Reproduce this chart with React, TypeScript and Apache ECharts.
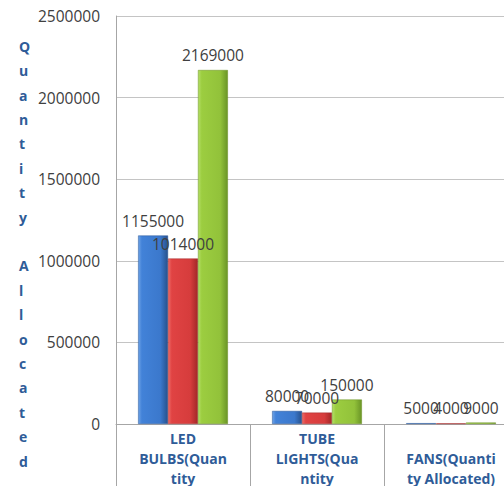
import React, { useEffect, useRef } from "react";
import * as echarts from "echarts";

const categories = [
  "LED\nBULBS(Quan\ntity\nAllocated)",
  "TUBE\nLIGHTS(Qua\nntity\nAllocated)",
  "FANS(Quanti\nty Allocated)",
];
const seriesA = [1155000, 80000, 5000];
const seriesB = [1014000, 70000, 4000];
const seriesC = [2169000, 150000, 9000];
const yTitle = "Quantity Allocated";

function grad(light: string, main: string, mid: string, dark: string) {
  return new echarts.graphic.LinearGradient(0, 0, 1, 0, [
    { offset: 0, color: light },
    { offset: 0.12, color: main },
    { offset: 0.75, color: mid },
    { offset: 1, color: dark },
  ]);
}

export default function App() {
  const ref = useRef<HTMLDivElement>(null);
  useEffect(() => {
    const chart = echarts.init(ref.current!, undefined, { renderer: "svg" });
    const labelStyle = {
      show: true,
      position: "top" as const,
      distance: 7,
      color: "#404040",
      fontSize: 15.5,
      fontFamily: "Open Sans",
    };
    const mk = (name: string, data: number[], color: any, border: string) => ({
      name,
      type: "bar" as const,
      data,
      barGap: "0%",
      barCategoryGap: "33%",
      itemStyle: { color, borderColor: border, borderWidth: 0.5 },
      label: labelStyle,
    });
    chart.setOption({
      animation: false,
      backgroundColor: "#ffffff",
      grid: { left: 116, top: 16, right: 12, bottom: 96, containLabel: false },
      xAxis: {
        type: "category",
        data: categories,
        axisLine: { lineStyle: { color: "#a6a6a6" } },
        axisTick: { show: true, length: 80, alignWithLabel: false, interval: 0, lineStyle: { color: "#a6a6a6" } },
        axisLabel: {
          interval: 0,
          margin: 44,
          verticalAlign: "middle",
          lineHeight: 20,
          color: "#2f5c98",
          fontWeight: "bold",
          fontSize: 14,
          fontFamily: "Open Sans",
        },
      },
      yAxis: {
        type: "value",
        min: 0,
        max: 2500000,
        interval: 500000,
        axisLine: { show: true, lineStyle: { color: "#a6a6a6" } },
        axisTick: { show: false },
        splitLine: { lineStyle: { color: "#c4c4c4" } },
        axisLabel: {
          color: "#404040",
          fontSize: 15.5,
          fontFamily: "Open Sans",
          margin: 16,
          formatter: (v: number) => String(v),
        },
      },
      graphic: [
        {
          type: "text",
          left: 19,
          top: 34,
          style: {
            text: yTitle.split("").join("\n"),
            fill: "#2f5c98",
            font: "bold 14px 'Open Sans'",
            lineHeight: 24.4,
            align: "center",
          },
        },
      ],
      series: [
        mk("A", seriesA, grad("#6da2e6", "#4282d8", "#3b78cc", "#27518c"), "#2b5797"),
        mk("B", seriesB, grad("#ee6a66", "#e04343", "#d63c3c", "#a22828"), "#a32a2a"),
        mk("C", seriesC, grad("#b4df66", "#9ccd40", "#92c23a", "#6a9526"), "#6b8e23"),
      ],
    });
    return () => chart.dispose();
  }, []);
  return (
    <div
      ref={ref}
      style={{ position: "absolute", left: 0, top: 0, width: 530, height: 520 }}
    />
  );
}
